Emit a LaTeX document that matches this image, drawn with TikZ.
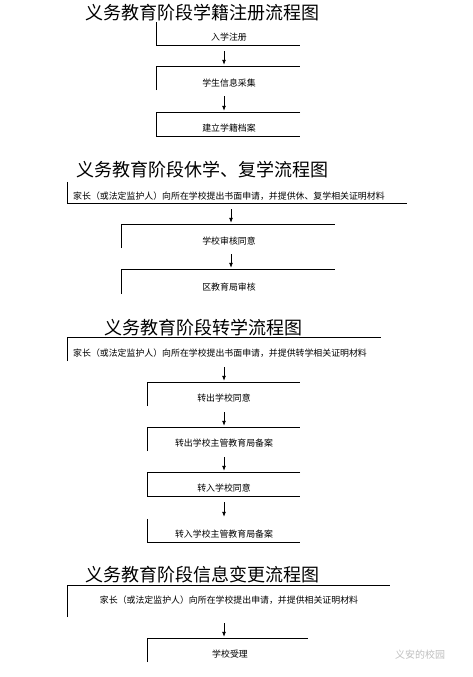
\documentclass[tikz,border=0pt]{standalone}
\usepackage{fontspec}
\usepackage{tikz}
\usetikzlibrary{arrows.meta}
\newfontfamily\cjk{Noto Sans CJK SC}
\def\FB#1#2#3#4#5{\node[boxn,minimum width={#4-#2},minimum height={#5-#3}] (#1) at ({(#2+#4)/2},{(#3+#5)/2}) {};}
\def\LB#1{\draw [ln] (#1.north west) |- (#1.south east);}
\def\TL#1{\draw [ln] (#1.south west) |- (#1.north east);}
\def\TLB#1{\draw [ln] (#1.north east) -- (#1.north west) -- (#1.south west) -- (#1.south east);}
\tikzset{
  boxn/.style={inner sep=0pt,draw=none},
  ln/.style={line width=0.9pt},
  ttl/.style={font=\cjk\fontsize{18}{20}\selectfont,inner sep=0pt},
  txt/.style={font=\cjk\fontsize{8.9}{10}\selectfont,inner sep=0pt},
  arr/.style={line width=0.8pt,-{Latex[length=5pt,width=4pt]},shorten <=6pt,shorten >=2pt}
}
\begin{document}
\begin{tikzpicture}[x=1pt,y=-1pt]
\useasboundingbox [fill=white] (0,0) rectangle (472,677);
% 学籍注册
\node[ttl] (h1) at (202.5,12.5) {义务教育阶段学籍注册流程图};
\FB{b1}{157}{22}{300}{45} \FB{b2}{157}{67}{300}{90} \FB{b3}{157}{113}{300}{136}
\LB{b1} \TL{b2} \TLB{b3}
\node[txt] (t1) at (229,37) {入学注册};
\node[txt] (t2) at (229,83) {学生信息采集};
\node[txt] (t3) at (229,128) {建立学籍档案};
\coordinate (ax1) at (224,0);
\draw[arr] (b1.south -| ax1) -- (b2.north -| ax1);
\draw[arr] (b2.south -| ax1) -- (b3.north -| ax1);
% 休学、复学
\node[ttl] (h2) at (202.5,170) {义务教育阶段休学、复学流程图};
\FB{b4}{68}{182}{407}{203} \FB{b5}{122}{225}{335}{248} \FB{b6}{122}{270}{335}{294}
\LB{b4} \TL{b5} \TL{b6}
\node[txt,anchor=west] (t4) at (73,196) {家长（或法定监护人）向所在学校提出书面申请，并提供休、复学相关证明材料};
\node[txt] (t5) at (229,241) {学校审核同意};
\node[txt] (t6) at (229,287) {区教育局审核};
\coordinate (ax2) at (231,0);
\draw[arr] (b4.south -| ax2) -- (b5.north -| ax2);
\draw[arr] (b5.south -| ax2) -- (b6.north -| ax2);
% 转学
\node[ttl] (h3) at (203,328) {义务教育阶段转学流程图};
\FB{b7}{68}{338}{381}{361} \FB{b8}{148}{383}{300}{406} \FB{b9}{148}{428}{300}{451}
\FB{b10}{148}{473}{300}{496} \FB{b11}{148}{519}{300}{542}
\TL{b7} \TL{b8} \TL{b9} \TLB{b10} \LB{b11}
\node[txt,anchor=west] (t7) at (73,353) {家长（或法定监护人）向所在学校提出书面申请，并提供转学相关证明材料};
\node[txt] (t8) at (224,398) {转出学校同意};
\node[txt] (t9) at (224,443) {转出学校主管教育局备案};
\node[txt] (t10) at (224,488) {转入学校同意};
\node[txt] (t11) at (224,534) {转入学校主管教育局备案};
\coordinate (ax3) at (224,0);
\foreach \a/\b in {b7/b8,b8/b9,b9/b10,b10/b11}
  \draw[arr] (\a.south -| ax3) -- (\b.north -| ax3);
% 信息变更
\node[ttl] (h4) at (202.5,575) {义务教育阶段信息变更流程图};
\FB{b12}{68}{586}{390}{617} \FB{b13}{148}{639}{308}{662}
\TL{b12} \TL{b13}
\node[txt] (t12) at (229,600) {家长（或法定监护人）向所在学校提出申请，并提供相关证明材料};
\node[txt] (t13) at (230,654) {学校受理};
\draw[arr] (b12.south -| ax3) -- (b13.north -| ax3);
\node[txt,text=black!25,font=\cjk\fontsize{10}{12}\selectfont] (wm) at (420,655) {义安的校园};
\end{tikzpicture}
\end{document}
